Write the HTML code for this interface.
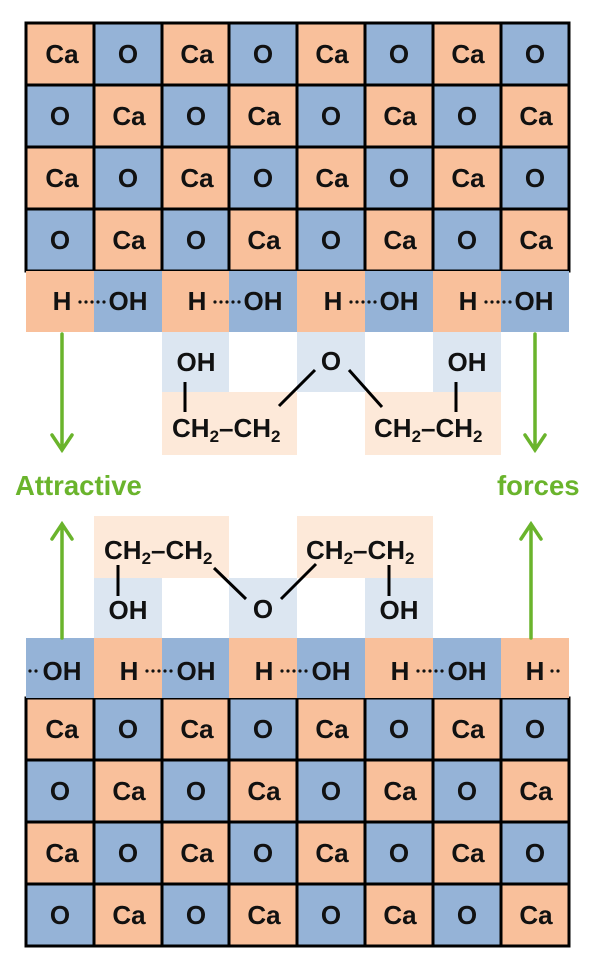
<!DOCTYPE html>
<html><head><meta charset="utf-8"><style>
html,body{margin:0;padding:0;background:#fff}
svg{display:block}
text{font-family:"Liberation Sans",Arial,sans-serif;font-weight:bold;font-size:26px;fill:#111}
.m{text-anchor:middle}
.g{fill:#6ab42c;font-size:27.5px}
</style></head><body>
<svg width="602" height="977" viewBox="0 0 602 977" xmlns="http://www.w3.org/2000/svg">
<defs>
<g id="grid">
<rect x="26" y="0" width="68" height="62" fill="#f9c09b"/><rect x="94" y="0" width="68" height="62" fill="#95b3d7"/><rect x="162" y="0" width="67" height="62" fill="#f9c09b"/><rect x="229" y="0" width="68" height="62" fill="#95b3d7"/><rect x="297" y="0" width="68" height="62" fill="#f9c09b"/><rect x="365" y="0" width="68" height="62" fill="#95b3d7"/><rect x="433" y="0" width="68" height="62" fill="#f9c09b"/><rect x="501" y="0" width="68" height="62" fill="#95b3d7"/>
<rect x="26" y="62" width="68" height="62" fill="#95b3d7"/><rect x="94" y="62" width="68" height="62" fill="#f9c09b"/><rect x="162" y="62" width="67" height="62" fill="#95b3d7"/><rect x="229" y="62" width="68" height="62" fill="#f9c09b"/><rect x="297" y="62" width="68" height="62" fill="#95b3d7"/><rect x="365" y="62" width="68" height="62" fill="#f9c09b"/><rect x="433" y="62" width="68" height="62" fill="#95b3d7"/><rect x="501" y="62" width="68" height="62" fill="#f9c09b"/>
<rect x="26" y="124" width="68" height="62" fill="#f9c09b"/><rect x="94" y="124" width="68" height="62" fill="#95b3d7"/><rect x="162" y="124" width="67" height="62" fill="#f9c09b"/><rect x="229" y="124" width="68" height="62" fill="#95b3d7"/><rect x="297" y="124" width="68" height="62" fill="#f9c09b"/><rect x="365" y="124" width="68" height="62" fill="#95b3d7"/><rect x="433" y="124" width="68" height="62" fill="#f9c09b"/><rect x="501" y="124" width="68" height="62" fill="#95b3d7"/>
<rect x="26" y="186" width="68" height="62" fill="#95b3d7"/><rect x="94" y="186" width="68" height="62" fill="#f9c09b"/><rect x="162" y="186" width="67" height="62" fill="#95b3d7"/><rect x="229" y="186" width="68" height="62" fill="#f9c09b"/><rect x="297" y="186" width="68" height="62" fill="#95b3d7"/><rect x="365" y="186" width="68" height="62" fill="#f9c09b"/><rect x="433" y="186" width="68" height="62" fill="#95b3d7"/><rect x="501" y="186" width="68" height="62" fill="#f9c09b"/>
<g stroke="#000" stroke-width="3" fill="none">
<rect x="26" y="0" width="543" height="248"/>
<path d="M94 0V248M162 0V248M229 0V248M297 0V248M365 0V248M433 0V248M501 0V248M26 62H569M26 124H569M26 186H569"/>
</g>
<text x="62" y="40" class="m">Ca</text><text x="128" y="40" class="m">O</text><text x="197" y="40" class="m">Ca</text><text x="263" y="40" class="m">O</text><text x="332" y="40" class="m">Ca</text><text x="399" y="40" class="m">O</text><text x="468" y="40" class="m">Ca</text><text x="535" y="40" class="m">O</text>
<text x="60" y="102" class="m">O</text><text x="129" y="102" class="m">Ca</text><text x="196" y="102" class="m">O</text><text x="264" y="102" class="m">Ca</text><text x="331" y="102" class="m">O</text><text x="400" y="102" class="m">Ca</text><text x="467" y="102" class="m">O</text><text x="536" y="102" class="m">Ca</text>
<text x="62" y="164" class="m">Ca</text><text x="128" y="164" class="m">O</text><text x="197" y="164" class="m">Ca</text><text x="263" y="164" class="m">O</text><text x="332" y="164" class="m">Ca</text><text x="399" y="164" class="m">O</text><text x="468" y="164" class="m">Ca</text><text x="535" y="164" class="m">O</text>
<text x="60" y="226" class="m">O</text><text x="129" y="226" class="m">Ca</text><text x="196" y="226" class="m">O</text><text x="264" y="226" class="m">Ca</text><text x="331" y="226" class="m">O</text><text x="400" y="226" class="m">Ca</text><text x="467" y="226" class="m">O</text><text x="536" y="226" class="m">Ca</text>
</g>
<g id="dots" fill="#111"><circle cx="80" cy="0" r="1.6"/><circle cx="86" cy="0" r="1.6"/><circle cx="92" cy="0" r="1.6"/><circle cx="98" cy="0" r="1.6"/><circle cx="104" cy="0" r="1.6"/></g>
</defs>

<use href="#grid" x="0" y="23"/>
<use href="#grid" x="0" y="698"/>

<!-- top H row -->
<rect x="26" y="271" width="68" height="61" fill="#f9c09b"/><rect x="94" y="271" width="68" height="61" fill="#95b3d7"/><rect x="162" y="271" width="67" height="61" fill="#f9c09b"/><rect x="229" y="271" width="68" height="61" fill="#95b3d7"/><rect x="297" y="271" width="68" height="61" fill="#f9c09b"/><rect x="365" y="271" width="68" height="61" fill="#95b3d7"/><rect x="433" y="271" width="68" height="61" fill="#f9c09b"/><rect x="501" y="271" width="68" height="61" fill="#95b3d7"/>
<text x="62" y="310" class="m">H</text><use href="#dots" x="0" y="302"/><text x="128" y="310" class="m">OH</text>
<text x="197" y="310" class="m">H</text><use href="#dots" x="135" y="302"/><text x="263" y="310" class="m">OH</text>
<text x="333" y="310" class="m">H</text><use href="#dots" x="271" y="302"/><text x="399" y="310" class="m">OH</text>
<text x="468" y="310" class="m">H</text><use href="#dots" x="406" y="302"/><text x="534" y="310" class="m">OH</text>

<!-- top molecule -->
<rect x="162" y="332" width="67" height="60" fill="#dce6f1"/>
<rect x="162" y="392" width="135" height="63" fill="#fde9d9"/>
<rect x="297" y="332" width="68" height="60" fill="#dce6f1"/>
<rect x="433" y="332" width="68" height="60" fill="#dce6f1"/>
<rect x="365" y="392" width="136" height="63" fill="#fde9d9"/>
<text x="196" y="371" class="m">OH</text>
<text x="172" y="437">CH<tspan font-size="17" dy="5">2</tspan><tspan dy="-5">–CH</tspan><tspan font-size="17" dy="5">2</tspan></text>
<text x="331" y="370" class="m">O</text>
<text x="467" y="371" class="m">OH</text>
<text x="374" y="437">CH<tspan font-size="17" dy="5">2</tspan><tspan dy="-5">–CH</tspan><tspan font-size="17" dy="5">2</tspan></text>
<g stroke="#000" stroke-width="3">
<path d="M185 382V412M456 382V412M279 406L315 370M349 370L382 407"/>
</g>

<!-- bottom molecule -->
<rect x="94" y="516" width="135" height="62" fill="#fde9d9"/>
<rect x="94" y="578" width="68" height="60" fill="#dce6f1"/>
<rect x="229" y="578" width="68" height="60" fill="#dce6f1"/>
<rect x="297" y="516" width="136" height="62" fill="#fde9d9"/>
<rect x="365" y="578" width="68" height="60" fill="#dce6f1"/>
<text x="104" y="559">CH<tspan font-size="17" dy="5">2</tspan><tspan dy="-5">–CH</tspan><tspan font-size="17" dy="5">2</tspan></text>
<text x="306" y="559">CH<tspan font-size="17" dy="5">2</tspan><tspan dy="-5">–CH</tspan><tspan font-size="17" dy="5">2</tspan></text>
<text x="128" y="619" class="m">OH</text>
<text x="263" y="618" class="m">O</text>
<text x="399" y="619" class="m">OH</text>
<g stroke="#000" stroke-width="3">
<path d="M118 565V596M389 565V596M214 568L246 599M281 599L316 564"/>
</g>

<!-- bottom H row -->
<rect x="26" y="638" width="68" height="60" fill="#95b3d7"/><rect x="94" y="638" width="68" height="60" fill="#f9c09b"/><rect x="162" y="638" width="67" height="60" fill="#95b3d7"/><rect x="229" y="638" width="68" height="60" fill="#f9c09b"/><rect x="297" y="638" width="68" height="60" fill="#95b3d7"/><rect x="365" y="638" width="68" height="60" fill="#f9c09b"/><rect x="433" y="638" width="68" height="60" fill="#95b3d7"/><rect x="501" y="638" width="68" height="60" fill="#f9c09b"/>
<circle cx="30" cy="671" r="1.6" fill="#111"/><circle cx="36" cy="671" r="1.6" fill="#111"/><text x="62" y="680" class="m">OH</text>
<text x="129" y="680" class="m">H</text><use href="#dots" x="67" y="671"/><text x="196" y="680" class="m">OH</text>
<text x="264" y="680" class="m">H</text><use href="#dots" x="202" y="671"/><text x="331" y="680" class="m">OH</text>
<text x="400" y="680" class="m">H</text><use href="#dots" x="338" y="671"/><text x="467" y="680" class="m">OH</text>
<text x="535" y="680" class="m">H</text><circle cx="552" cy="671" r="1.6" fill="#111"/><circle cx="558" cy="671" r="1.6" fill="#111"/>

<!-- arrows -->
<g stroke="#6ab42c" stroke-width="3.5" fill="none" stroke-linecap="round">
<path d="M62 334V450M52 435L62 450L72 435"/>
<path d="M535 334V450M525 435L535 450L545 435"/>
<path d="M62 638V524M52 539L62 524L72 539"/>
<path d="M531 638V524M521 539L531 524L541 539"/>
</g>
<text x="15" y="495" class="g">Attractive</text>
<text x="497" y="495" class="g">forces</text>
</svg>
</body></html>
